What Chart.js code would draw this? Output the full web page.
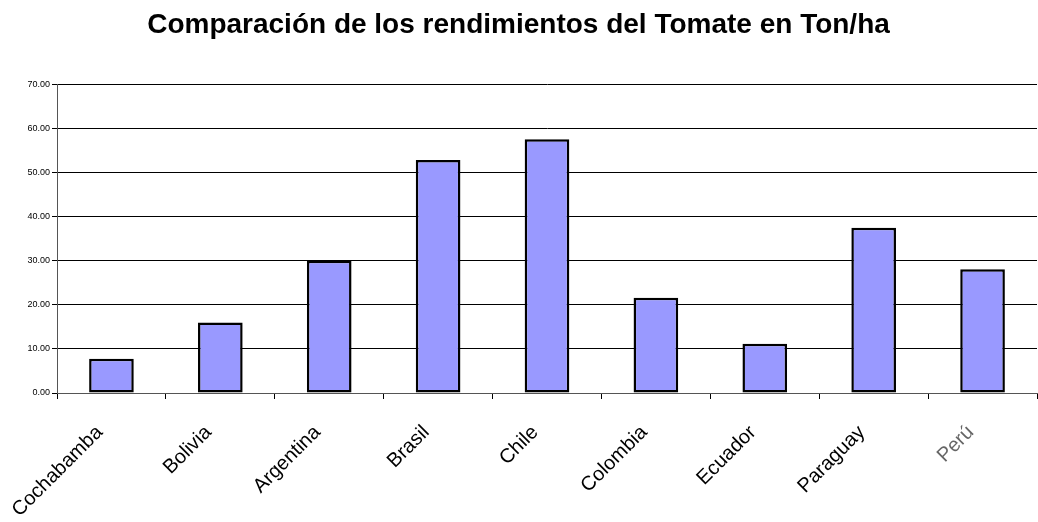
<!DOCTYPE html>
<html>
<head>
<meta charset="utf-8">
<script src="https://cdn.jsdelivr.net/npm/chart.js@4.4.0/dist/chart.umd.min.js"></script>
<style>
  html, body { margin: 0; padding: 0; background: #fff; }
  #wrap { width: 1038px; height: 522px; }
</style>
</head>
<body>
<div id="wrap"><canvas id="grafico"></canvas></div>
<script>
  // Datos del gráfico
  const paises = ['Cochabamba', 'Bolivia', 'Argentina', 'Brasil', 'Chile', 'Colombia', 'Ecuador', 'Paraguay', 'Perú'];
  const rendimientos = [7.8, 16.0, 30.0, 52.9, 57.6, 21.6, 11.2, 37.5, 28.1];
  const ticksY = [0, 10, 20, 30, 40, 50, 60, 70];

  const ctx = document.getElementById('grafico');
  new Chart(ctx, {
    type: 'bar',
    data: {
      labels: paises,
      datasets: [{
        label: 'Ton/ha',
        data: rendimientos,
        backgroundColor: '#9999FF',
        borderColor: '#000000',
        borderWidth: 2.5,
        borderSkipped: false,
        categoryPercentage: 1,
        barPercentage: 0.41
      }]
    },
    options: {
      responsive: true,
      maintainAspectRatio: false,
      animation: false,
      layout: { padding: { left: 0, right: 1, top: 0, bottom: 0 } },
      plugins: {
        legend: { display: false },
        tooltip: { enabled: false },
        title: {
          display: true,
          text: 'Comparación de los rendimientos del Tomate en Ton/ha',
          color: '#000',
          font: { family: 'Liberation Sans, Arial, sans-serif', size: 28, weight: 'bold' },
          padding: { top: 8, bottom: 43 }
        }
      },
      scales: {
        x: {
          grid: { drawOnChartArea: false, drawTicks: true, tickLength: 6, color: '#000' },
          border: { color: '#555', width: 1 },
          ticks: {
            autoSkip: false,
            minRotation: 45,
            maxRotation: 45,
            padding: 10,
            // espacios al final para bajar la etiqueta en diagonal
            callback: (v, i) => paises[i] + '   ',
            color: c => c.index === 8 ? '#666' : '#000',
            font: { family: 'Liberation Sans, Arial, sans-serif', size: 20 }
          },
          afterFit: s => { s.height = 129; }
        },
        y: {
          min: 0,
          max: 70,
          afterBuildTicks: s => { s.ticks = ticksY.map(v => ({ value: v })); },
          grid: { color: '#000', lineWidth: 1, tickLength: 5 },
          border: { color: '#555', width: 1 },
          ticks: {
            padding: 2,
            color: '#000',
            font: { family: 'Liberation Sans, Arial, sans-serif', size: 9 },
            callback: v => v.toFixed(2)
          },
          afterFit: s => { s.width = 57; }
        }
      }
    }
  });
</script>
</body>
</html>
